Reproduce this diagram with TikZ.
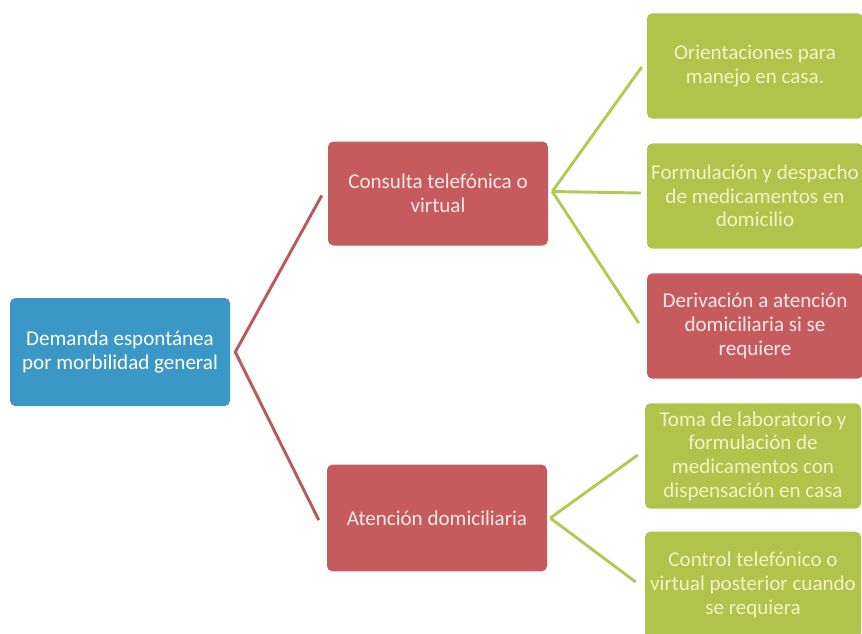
\documentclass[tikz,border=0pt]{standalone}
\usepackage{fontspec}
\setmainfont{Carlito}
\usetikzlibrary{calc}
\definecolor{bboxc}{HTML}{3B98C6}
\definecolor{rboxc}{HTML}{C65B5E}
\definecolor{gboxc}{HTML}{B0C34A}
\definecolor{rline}{HTML}{B85A5E}
\definecolor{gline}{HTML}{AECB55}
\definecolor{gtext}{HTML}{F3F2C8}
\definecolor{rtext}{HTML}{F8E8E6}
\begin{document}
\begin{tikzpicture}[x=0.75pt,y=-0.75pt,
  box/.style={rounded corners=4pt, align=center, inner sep=1pt,
    font=\fontsize{15.8}{17.8}\selectfont},
  bluebox/.style={box, fill=bboxc, text=white, minimum width=165pt, minimum height=81pt},
  redbox/.style={box, fill=rboxc, text=rtext, minimum width=165pt, minimum height=78pt},
  greenbox/.style={box, fill=gboxc, text=gtext, minimum width=162pt, minimum height=79pt},
  redlink/.style={draw=rline, line width=2.2pt},
  greenlink/.style={draw=gline, line width=2.2pt}]
\useasboundingbox (0,0) rectangle (862,633);
\node[bluebox] (root) at (120,352) {Demanda espontánea\\por morbilidad general};
\node[redbox] (cons) at (438,193.5) {Consulta telefónica o\\virtual};
\node[redbox, minimum height=80pt] (aten) at (437,518) {Atención domiciliaria};
\node[greenbox] (ori) at (755,66) {Orientaciones para\\manejo en casa.};
\node[greenbox] (form) at (755,196) {Formulación y despacho\\de medicamentos en\\domicilio};
\node[redbox, minimum width=162pt, minimum height=79pt] (der) at (755,326) {Derivación a atención\\domiciliaria si se\\requiere};
\node[greenbox] (toma) at (753,456) {Toma de laboratorio y\\formulación de\\medicamentos con\\dispensación en casa};
\node[greenbox, minimum height=80pt] (ctrl) at (753,585) {Control telefónico o\\virtual posterior cuando\\se requiera};
\coordinate (v0) at ($(root.east)+(5,0)$);
\coordinate (v1) at ($(cons.east)+(4,-2)$);
\coordinate (v2) at ($(aten.east)+(3,0)$);
\draw[redlink] ($(cons.west)+(-6,2)$) -- (v0) -- ($(aten.west)+(-8,2)$);
\draw[greenlink] (v1) -- ($(ori.west)+(-5,1)$);
\draw[greenlink] (v1) -- ($(form.west)+(-6,-3)$);
\draw[greenlink] (v1) -- ($(der.west)+(-8,-3)$);
\draw[greenlink] (v2) -- ($(toma.west)+(-7,-1)$);
\draw[greenlink] (v2) -- ($(ctrl.west)+(-9,-3)$);
\end{tikzpicture}
\end{document}
